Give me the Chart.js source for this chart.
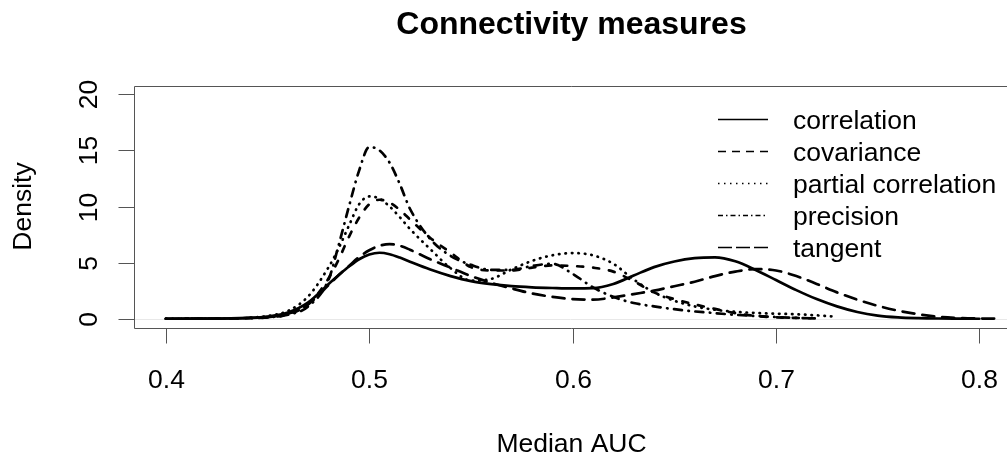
<!DOCTYPE html>
<html>
<head>
<meta charset="utf-8">
<title>Connectivity measures</title>
<script src="https://cdn.jsdelivr.net/npm/chart.js@4.4.1/dist/chart.umd.min.js"></script>
<style>
  html, body { margin: 0; padding: 0; background: #fff; overflow: hidden; }
  canvas { display: block; }
</style>
</head>
<body>
<canvas id="densityChart" width="1007" height="456"></canvas>
<script>
// x grid (median AUC) shared by all density curves
const auc = [0.40, 0.42, 0.44, 0.45, 0.46, 0.47, 0.48, 0.485, 0.49, 0.495, 0.50, 0.505, 0.51, 0.515, 0.52,
             0.53, 0.54, 0.55, 0.56, 0.57, 0.58, 0.59, 0.60, 0.61, 0.62, 0.63, 0.64, 0.65, 0.66, 0.67,
             0.68, 0.69, 0.70, 0.71, 0.72, 0.73, 0.74, 0.75, 0.76, 0.77, 0.78, 0.79, 0.80, 0.81];

// density values (null = curve has ended)
const correlation = [0, 0.01, 0.08, 0.2, 0.55, 1.45, 3.1, 3.9, 4.65, 5.3, 5.72, 5.88, 5.75, 5.45, 5.08,
                     4.38, 3.8, 3.35, 3.08, 2.9, 2.8, 2.74, 2.7, 2.72, 3.1, 3.85, 4.6, 5.1, 5.4, 5.47,
                     5.12, 4.35, 3.45, 2.55, 1.75, 1.1, 0.6, 0.28, 0.12, 0.05, 0.02, 0.01, 0, null];
const covariance = [0, 0.01, 0.05, 0.12, 0.4, 1.3, 3.6, 5.3, 7.3, 9.0, 10.2, 10.6, 10.35, 9.7, 8.85,
                    7.2, 5.9, 4.6, 4.3, 4.3, 4.55, 4.75, 4.7, 4.55, 4.2, 3.35, 2.35, 1.75, 1.28, 0.88,
                    0.5, 0.25, 0.12, 0.07, 0.03, null, null, null, null, null, null, null, null, null];
const partialCorrelation = [0, 0.01, 0.08, 0.25, 0.7, 2.0, 4.6, 6.3, 8.3, 10.2, 10.9, 10.7, 10.0, 9.05, 8.0,
                            6.2, 4.5, 3.4, 3.55, 4.4, 5.15, 5.65, 5.85, 5.65, 4.9, 3.5, 2.35, 1.6, 1.1, 0.8,
                            0.62, 0.52, 0.45, 0.4, 0.3, 0.18, null, null, null, null, null, null, null, null];
const precision = [0, 0.01, 0.05, 0.12, 0.35, 1.1, 3.5, 6.6, 10.0, 13.2, 15.3, 15.0, 13.9, 12.0, 9.8,
                   7.1, 5.6, 4.8, 4.35, 4.35, 4.7, 4.9, 4.0, 2.8, 1.95, 1.4, 1.1, 0.85, 0.65, 0.5,
                   0.35, 0.25, 0.15, 0.08, 0.03, null, null, null, null, null, null, null, null, null];
const tangent = [0, 0.01, 0.06, 0.15, 0.45, 1.3, 3.0, 3.9, 4.7, 5.5, 6.1, 6.5, 6.65, 6.5, 6.15,
                 5.3, 4.55, 3.8, 3.2, 2.7, 2.25, 1.95, 1.75, 1.7, 1.9, 2.2, 2.5, 2.9, 3.3, 3.8,
                 4.2, 4.42, 4.3, 3.8, 3.1, 2.35, 1.7, 1.15, 0.72, 0.4, 0.18, 0.07, 0.02, 0.01];

const seriesNames = ['correlation', 'covariance', 'partial correlation', 'precision', 'tangent'];
const xTicks = [0.4, 0.5, 0.6, 0.7, 0.8];
const xTickLabels = ['0.4', '0.5', '0.6', '0.7', '0.8'];
const yTicks = [0, 5, 10, 15, 20];
const yTickLabels = ['0', '5', '10', '15', '20'];
const titleText = 'Connectivity measures';
const xTitle = 'Median AUC';
const yTitle = 'Density';

const FONT = '"Liberation Sans", Arial, Helvetica, sans-serif';

// line types like R's lty 1..5 (plot / legend)
const plotDash = [[], [6, 10], [0.5, 6], [0.5, 6.5, 8, 6.5], [12, 8]];
const legendDash = [[], [8, 6], [1.5, 4.5], [5, 3, 1.5, 3], [14, 4]];

function toPoints(values) {
    return auc.map((x, i) => ({ x: x, y: values[i] }));
}

const rStylePlot = {
    id: 'rStylePlot',
    beforeDatasetsDraw(chart) {
        // faint zero line like plot.density
        const { ctx, chartArea, scales } = chart;
        const y0 = Math.round(scales.y.getPixelForValue(0)) + 0.5;
        ctx.save();
        ctx.strokeStyle = '#e8e8e8';
        ctx.lineWidth = 1;
        ctx.beginPath();
        ctx.moveTo(chartArea.left, y0);
        ctx.lineTo(chartArea.right, y0);
        ctx.stroke();
        ctx.restore();
    },
    afterDraw(chart) {
        const { ctx, chartArea, scales } = chart;
        const left = Math.round(chartArea.left) + 0.5;
        const top = Math.round(chartArea.top) + 0.5;
        const bottom = Math.round(chartArea.bottom) + 0.5;

        ctx.save();
        ctx.strokeStyle = '#555';
        ctx.lineWidth = 1;
        ctx.setLineDash([]);

        // box (right edge falls off the page)
        ctx.beginPath();
        ctx.moveTo(chartArea.right + 2, top);
        ctx.lineTo(left, top);
        ctx.lineTo(left, bottom);
        ctx.lineTo(chartArea.right + 2, bottom);
        ctx.stroke();

        // x axis ticks + labels
        ctx.fillStyle = '#000';
        ctx.font = '26.5px ' + FONT;
        ctx.textAlign = 'center';
        ctx.textBaseline = 'alphabetic';
        xTicks.forEach((v, i) => {
            const px = Math.round(scales.x.getPixelForValue(v)) + 0.5;
            ctx.beginPath();
            ctx.moveTo(px, bottom);
            ctx.lineTo(px, bottom + 15);
            ctx.stroke();
            ctx.fillText(xTickLabels[i], px, 388);
        });

        // y axis ticks + rotated labels
        yTicks.forEach((v, i) => {
            const py = Math.round(scales.y.getPixelForValue(v)) + 0.5;
            ctx.beginPath();
            ctx.moveTo(left, py);
            ctx.lineTo(left - 16, py);
            ctx.stroke();
            ctx.save();
            ctx.translate(97, py);
            ctx.rotate(-Math.PI / 2);
            ctx.fillText(yTickLabels[i], 0, 0);
            ctx.restore();
        });

        // axis titles
        const midX = (chartArea.left + 1009) / 2;
        ctx.fillText(xTitle, midX, 452);
        ctx.save();
        ctx.translate(31, (chartArea.top + chartArea.bottom) / 2);
        ctx.rotate(-Math.PI / 2);
        ctx.fillText(yTitle, 0, 0);
        ctx.restore();

        // main title
        ctx.font = 'bold 32px ' + FONT;
        ctx.fillText(titleText, midX, 34);

        // legend
        ctx.font = '26.5px ' + FONT;
        ctx.textAlign = 'left';
        ctx.strokeStyle = '#000';
        ctx.lineWidth = 1.5;
        ctx.lineCap = 'butt';
        chart.data.datasets.forEach((ds, i) => {
            const base = 128.5 + i * 32.1;
            const ly = Math.round(base - 9.5) + 0.5;
            ctx.setLineDash(legendDash[i]);
            ctx.beginPath();
            ctx.moveTo(718, ly);
            ctx.lineTo(768, ly);
            ctx.stroke();
            ctx.fillText(ds.label, 793, base);
        });
        ctx.restore();
    }
};

const seriesValues = [correlation, covariance, partialCorrelation, precision, tangent];

const ctx = document.getElementById('densityChart').getContext('2d');
new Chart(ctx, {
    type: 'line',
    data: {
        datasets: seriesValues.map((vals, i) => ({
            label: seriesNames[i],
            data: toPoints(vals),
            borderColor: '#000',
            borderWidth: 2.7,
            borderDash: plotDash[i],
            borderCapStyle: 'round',
            borderJoinStyle: 'round',
            cubicInterpolationMode: 'monotone',
            pointRadius: 0,
            fill: false
        }))
    },
    options: {
        responsive: false,
        devicePixelRatio: 1,
        animation: false,
        layout: { padding: { left: 134, top: 85.5, right: 0, bottom: 128.5 } },
        plugins: {
            legend: { display: false },
            tooltip: { enabled: false },
            title: { display: false }
        },
        scales: {
            x: { type: 'linear', min: 0.3843, max: 0.8136, display: false },
            y: { type: 'linear', min: -0.78, max: 20.78, display: false }
        }
    },
    plugins: [rStylePlot]
});
</script>
</body>
</html>
